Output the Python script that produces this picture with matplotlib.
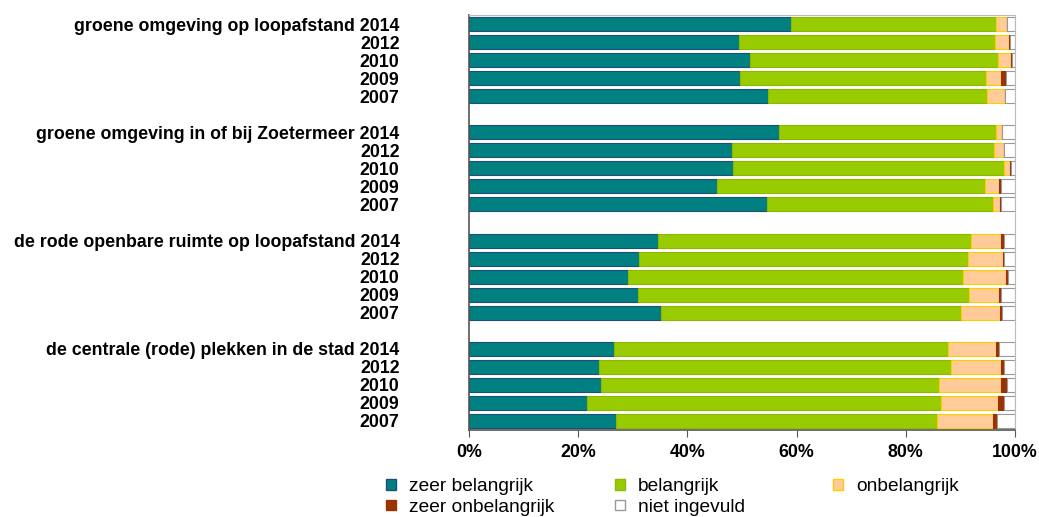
import matplotlib
matplotlib.use("Agg")
import matplotlib.pyplot as plt
from matplotlib.patches import Patch
import numpy as np

plt.rcParams['font.family'] = ['Liberation Sans', 'DejaVu Sans']

groups = ["groene omgeving op loopafstand", "groene omgeving in of bij Zoetermeer",
          "de rode openbare ruimte op loopafstand", "de centrale (rode) plekken in de stad"]
years = ["2014", "2012", "2010", "2009", "2007"]
series = ["zeer belangrijk", "belangrijk", "onbelangrijk", "zeer onbelangrijk", "niet ingevuld"]

# values per group (rows = years 2014, 2012, 2010, 2009, 2007)
zeer_belangrijk = [
    [58.9, 49.5, 51.4, 49.7, 54.7],
    [56.7, 48.1, 48.3, 45.5, 54.5],
    [34.7, 31.1, 29.2, 30.9, 35.1],
    [26.5, 23.9, 24.1, 21.7, 26.9],
]
belangrijk = [
    [37.6, 46.8, 45.5, 45.0, 40.2],
    [39.8, 48.1, 49.6, 49.0, 41.5],
    [57.3, 60.3, 61.2, 60.7, 55.1],
    [61.2, 64.4, 62.0, 64.7, 58.8],
]
onbelangrijk = [
    [2.1, 2.6, 2.4, 2.8, 3.3],
    [1.2, 1.7, 1.2, 2.6, 1.3],
    [5.5, 6.4, 7.9, 5.4, 7.1],
    [8.8, 9.2, 11.4, 10.4, 10.2],
]
zeer_onbelangrijk = [
    [0.0, 0.2, 0.2, 0.8, 0.0],
    [0.0, 0.0, 0.2, 0.4, 0.2],
    [0.4, 0.1, 0.4, 0.5, 0.3],
    [0.6, 0.4, 1.0, 1.1, 0.8],
]
niet_ingevuld = [
    [1.4, 0.9, 0.5, 1.7, 1.8],
    [2.3, 2.1, 0.7, 2.5, 2.5],
    [2.1, 2.1, 1.3, 2.5, 2.4],
    [2.9, 2.1, 1.5, 2.1, 3.3],
]

colors = ["#008080", "#99CC00", "#FFCC99", "#993300", "#FFFFFF"]
edges = ["#1F4E79", "#8DB800", "#FFCC00", "#993300", "#999999"]
data = [zeer_belangrijk, belangrijk, onbelangrijk, zeer_onbelangrijk, niet_ingevuld]

fig = plt.figure(figsize=(10.39, 5.17), dpi=100)
ax = fig.add_axes([469/1039, 1-430/517, (1015-469)/1039, (430-15)/517])

ypos = []
labels = []
slot = 0
for gi, g in enumerate(groups):
    for yi, y in enumerate(years):
        ypos.append(slot)
        labels.append(f"{g} {y}" if yi == 0 else y)
        slot += 1
    slot += 1
ypos = np.array(ypos)

left = np.zeros(len(ypos))
for si in range(5):
    vals = np.array([v for grp in data[si] for v in grp])
    ax.barh(ypos, vals, left=left, height=0.78, color=colors[si],
            edgecolor=edges[si], linewidth=0.8)
    left += vals

ax.set_ylim(22.5, -0.5)
ax.set_xlim(0, 100)
ax.set_yticks(ypos)
ax.set_yticklabels(labels, fontsize=12.8, fontweight='bold')
ax.tick_params(axis='y', length=0, pad=50)
ax.set_xticks([0, 20, 40, 60, 80, 100])
ax.set_xticklabels(["0%", "20%", "40%", "60%", "80%", "100%"], fontsize=12.8, fontweight='bold')
ax.tick_params(axis='x', length=5, direction='out', color='#555555', pad=5)
for s in ['top', 'right']:
    ax.spines[s].set_color('#BBBBBB')
for s in ['left', 'bottom']:
    ax.spines[s].set_color('#555555')
    ax.spines[s].set_linewidth(1.2)

handles = [Patch(facecolor=colors[i], edgecolor=edges[i], label=series[i]) for i in range(5)]
columns = [([0, 3], 386), ([1, 4], 615), ([2], 833)]
for idx, xpx in columns:
    fig.legend([handles[i] for i in idx], [series[i] for i in idx],
               loc='upper left', bbox_to_anchor=(xpx/1039, 1-478/517), ncol=1,
               frameon=False, fontsize=13.8, handlelength=0.5, handleheight=0.5,
               handletextpad=0.7, labelspacing=0.2, borderpad=0, borderaxespad=0)

fig.savefig("out.png", dpi=100)
